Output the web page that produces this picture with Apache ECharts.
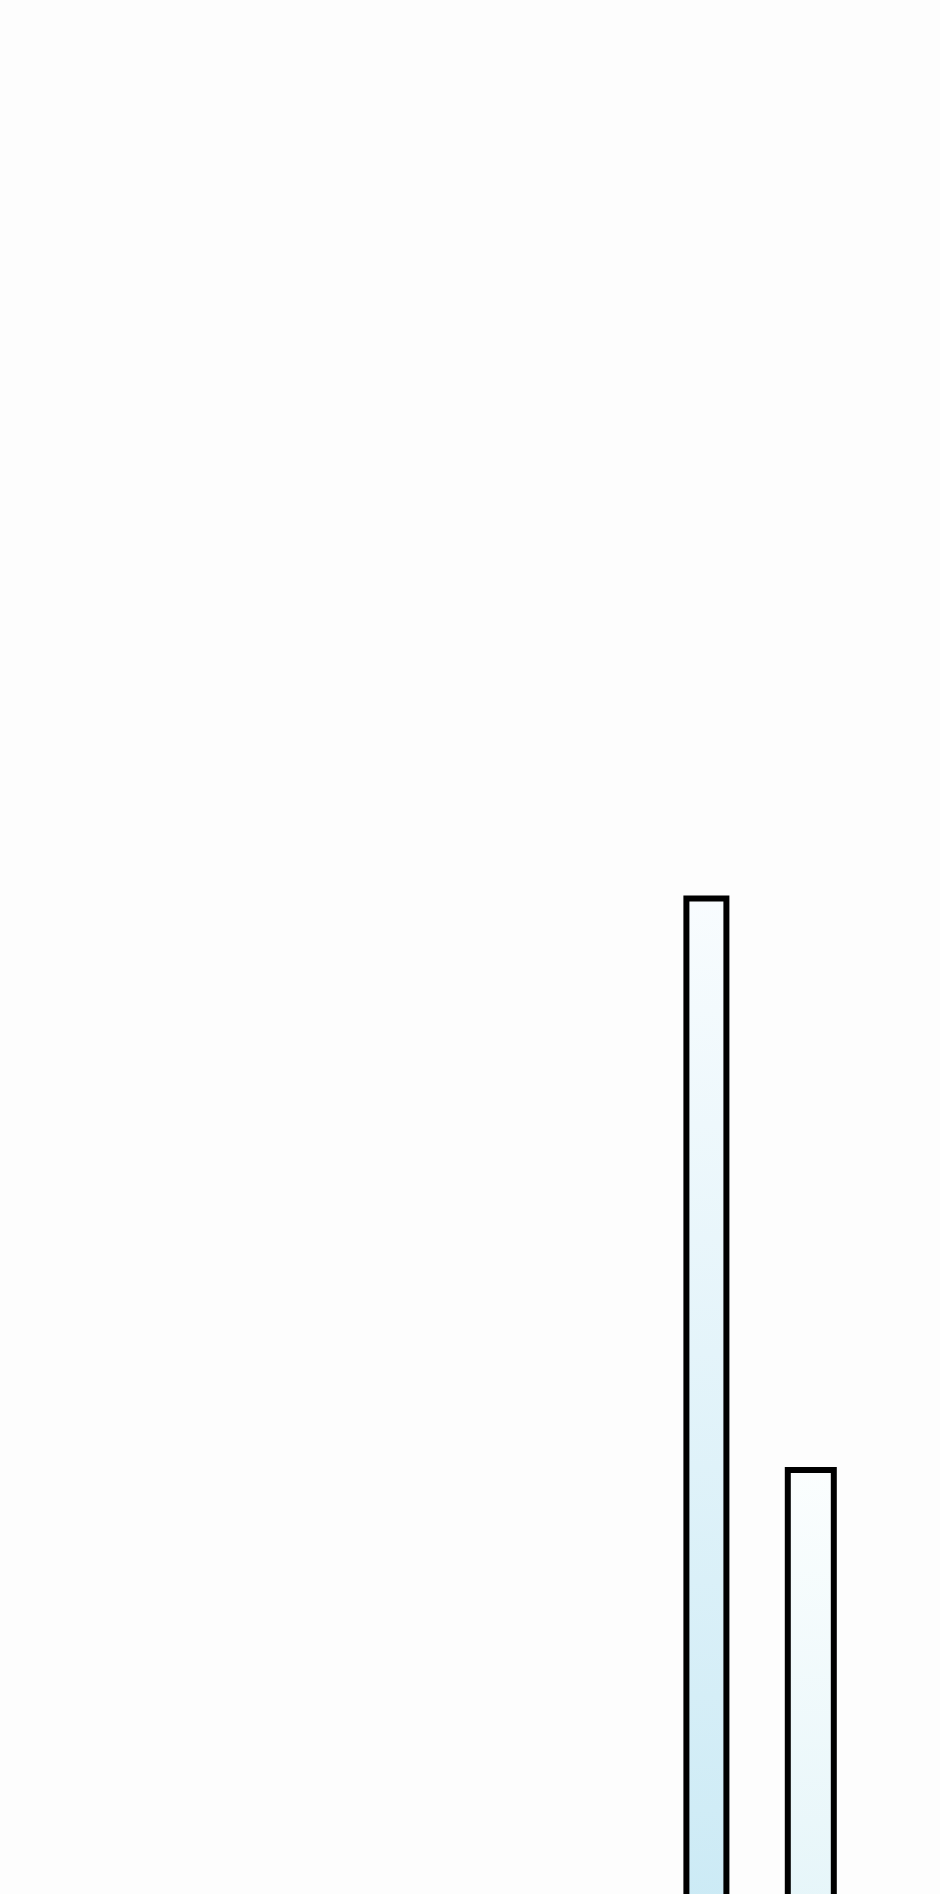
<!DOCTYPE html>
<html>
<head>
<meta charset="utf-8">
<style>
html,body{margin:0;padding:0;background:#fdfdfd;}
#chart{width:940px;height:1894px;}
</style>
<script src="https://cdn.jsdelivr.net/npm/echarts@6/dist/echarts.min.js"></script>
</head>
<body>
<div id="chart"></div>
<script>
// Data (arbitrary units, axis 0..100)
var categories = ['A', 'B'];
var values = [53.45, 23.75];
var topColors = ['#f8fcfe', '#fbfefe'];
var bottomColors = ['#cbeaf5', '#e5f5f9'];

var chart = echarts.init(document.getElementById('chart'), null, {renderer: 'canvas'});

var grids = [], xAxes = [], yAxes = [], series = [];
var centers = [706.4, 810.8];
var widths = [46, 52];
categories.forEach(function (c, i) {
  grids.push({left: centers[i] - 50, width: 100, top: 0, bottom: -30, outerBoundsMode: 'none', containLabel: false});
  xAxes.push({type: 'category', gridIndex: i, data: [c], show: false});
  yAxes.push({type: 'value', gridIndex: i, min: 0, max: 100, show: false});
  series.push({
    type: 'bar',
    xAxisIndex: i,
    yAxisIndex: i,
    data: [values[i]],
    barWidth: widths[i],
    silent: true,
    clip: false,
    itemStyle: {
      borderColor: '#000',
      borderWidth: 6,
      color: new echarts.graphic.LinearGradient(0, 0, 0, 1, [
        {offset: 0, color: topColors[i]},
        {offset: 1, color: bottomColors[i]}
      ])
    }
  });
});

chart.setOption({
  backgroundColor: '#fdfdfd',
  animation: false,
  grid: grids,
  xAxis: xAxes,
  yAxis: yAxes,
  series: series
});
</script>
</body>
</html>
